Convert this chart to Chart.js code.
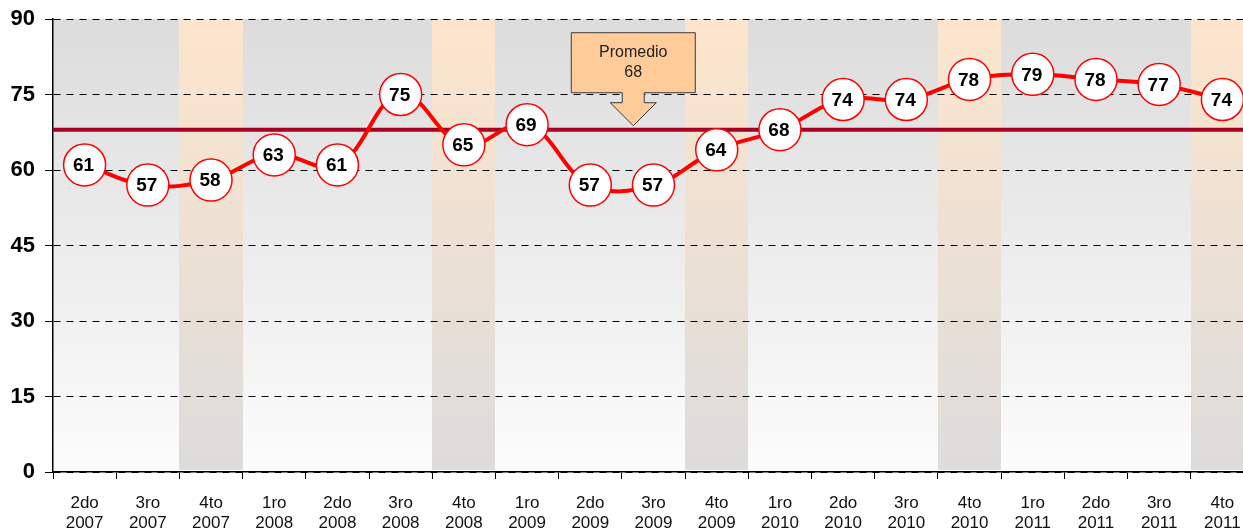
<!DOCTYPE html>
<html>
<head>
<meta charset="utf-8">
<script src="https://cdn.jsdelivr.net/npm/chart.js@4/dist/chart.umd.min.js"></script>
<style>
  html, body { margin: 0; padding: 0; background: #fff; overflow: hidden; }
  canvas { display: block; }
</style>
</head>
<body>
<canvas id="chart" width="1256" height="529"></canvas>
<script>
const quarters = ['2do','3ro','4to','1ro','2do','3ro','4to','1ro','2do','3ro','4to','1ro','2do','3ro','4to','1ro','2do','3ro','4to']
const years = ['2007','2007','2007','2008','2008','2008','2008','2009','2009','2009','2009','2010','2010','2010','2010','2011','2011','2011','2011']
const values = [61,57,58,63,61,75,65,69,57,57,64,68,74,74,78,79,78,77,74]
const promedio = 68
const yTicks = [0,15,30,45,60,75,90]

const labels = quarters.map((q,i)=>[q, years[i]])

// column backgrounds: gray fading to white, 4th quarters peach fading to gray
const columnsPlugin = {
  id: 'columns',
  beforeDraw(chart){
    const {ctx, chartArea, scales:{x}} = chart
    const half = (x.getPixelForValue(1) - x.getPixelForValue(0)) / 2
    const gGray = ctx.createLinearGradient(0, chartArea.top, 0, chartArea.bottom)
    gGray.addColorStop(0, '#dcdcdc')
    gGray.addColorStop(1, '#fcfcfc')
    const gPeach = ctx.createLinearGradient(0, chartArea.top, 0, chartArea.bottom)
    gPeach.addColorStop(0, '#fde5cc')
    gPeach.addColorStop(1, '#dcdcdc')
    ctx.save()
    quarters.forEach((q,i)=>{
      const cx = x.getPixelForValue(i)
      ctx.fillStyle = q === '4to' ? gPeach : gGray
      ctx.fillRect(Math.round(cx - half), chartArea.top, Math.round(half*2)+1, chartArea.bottom - chartArea.top - (q === '4to' ? 2 : 0))
    })
    ctx.restore()
  },
  beforeDatasetsDraw(chart){
    // average line
    const {ctx, chartArea, scales:{y}} = chart
    const py = y.getPixelForValue(promedio)
    ctx.save()
    ctx.strokeStyle = '#a50021'
    ctx.lineWidth = 4
    ctx.beginPath()
    ctx.moveTo(chartArea.left, py)
    ctx.lineTo(chartArea.right, py)
    ctx.stroke()
    ctx.restore()
  },
  afterDatasetsDraw(chart){
    const {ctx, scales:{x,y}} = chart
    // value labels
    const meta = chart.getDatasetMeta(0)
    ctx.save()
    ctx.font = 'bold 19px "Liberation Sans", Arial, sans-serif'
    ctx.fillStyle = '#000'
    ctx.textAlign = 'center'
    ctx.textBaseline = 'middle'
    meta.data.forEach((pt,i)=>{
      ctx.fillText(String(values[i]), pt.x - 1, pt.y + 1)
    })
    // callout "Promedio"
    const tx = x.getPixelForValue(8.68)
    const ty = y.getPixelForValue(promedio) - 4
    ctx.beginPath()
    ctx.moveTo(tx - 62, ty - 93)
    ctx.lineTo(tx + 62, ty - 93)
    ctx.lineTo(tx + 62, ty - 33)
    ctx.lineTo(tx + 11, ty - 33)
    ctx.lineTo(tx + 11, ty - 23)
    ctx.lineTo(tx + 23, ty - 23)
    ctx.lineTo(tx, ty)
    ctx.lineTo(tx - 23, ty - 23)
    ctx.lineTo(tx - 11, ty - 23)
    ctx.lineTo(tx - 11, ty - 33)
    ctx.lineTo(tx - 62, ty - 33)
    ctx.closePath()
    ctx.fillStyle = '#ffcc99'
    ctx.fill()
    ctx.strokeStyle = '#3a3a3a'
    ctx.lineWidth = 1
    ctx.stroke()
    ctx.fillStyle = '#222'
    ctx.font = '16px "Liberation Sans", Arial, sans-serif'
    ctx.fillText('Promedio', tx, ty - 73)
    ctx.fillText(String(promedio), tx, ty - 53)
    ctx.restore()
  }
}

new Chart(document.getElementById('chart'), {
  type: 'line',
  data: {
    labels: labels,
    datasets: [{
      data: values,
      borderColor: '#ff0000',
      borderWidth: 4,
      tension: 0.4,
      fill: false,
      pointRadius: 21,
      pointBackgroundColor: '#ffffff',
      pointBorderColor: '#ff0000',
      pointBorderWidth: 1.5
    }]
  },
  options: {
    responsive: false,
    animation: false,
    devicePixelRatio: 1,
    layout: { autoPadding: false, padding: { top: 19, right: 2, left: 0, bottom: 0 } },
    plugins: { legend: { display: false }, tooltip: { enabled: false } },
    scales: {
      x: {
        offset: true,
        grid: { offset: true, drawOnChartArea: false, drawTicks: true, tickLength: 7, color: '#000' },
        border: { color: '#000', width: 1.5 },
        ticks: {
          color: '#111',
          padding: 14,
          maxRotation: 0,
          autoSkip: false,
          font: { family: '"Liberation Sans", Arial, sans-serif', size: 17, lineHeight: 1.2 }
        },
        afterFit(scale){ scale.height = 57; scale.paddingLeft = 0; scale.paddingRight = 0 }
      },
      y: {
        min: 0,
        max: 90,
        afterBuildTicks(scale){ scale.ticks = yTicks.map(v=>({value:v})) },
        grid: { color: '#000', lineWidth: 1, drawTicks: true, tickLength: 8, tickColor: '#000' },
        border: { color: '#000', width: 1.5, dash: [7,6] },
        ticks: {
          color: '#000',
          padding: 10,
          font: { family: '"Liberation Sans", Arial, sans-serif', size: 22, weight: 'bold' }
        },
        afterFit(scale){ scale.width = 53; scale.paddingTop = 0; scale.paddingBottom = 0 }
      }
    }
  },
  plugins: [columnsPlugin]
})
</script>
</body>
</html>
